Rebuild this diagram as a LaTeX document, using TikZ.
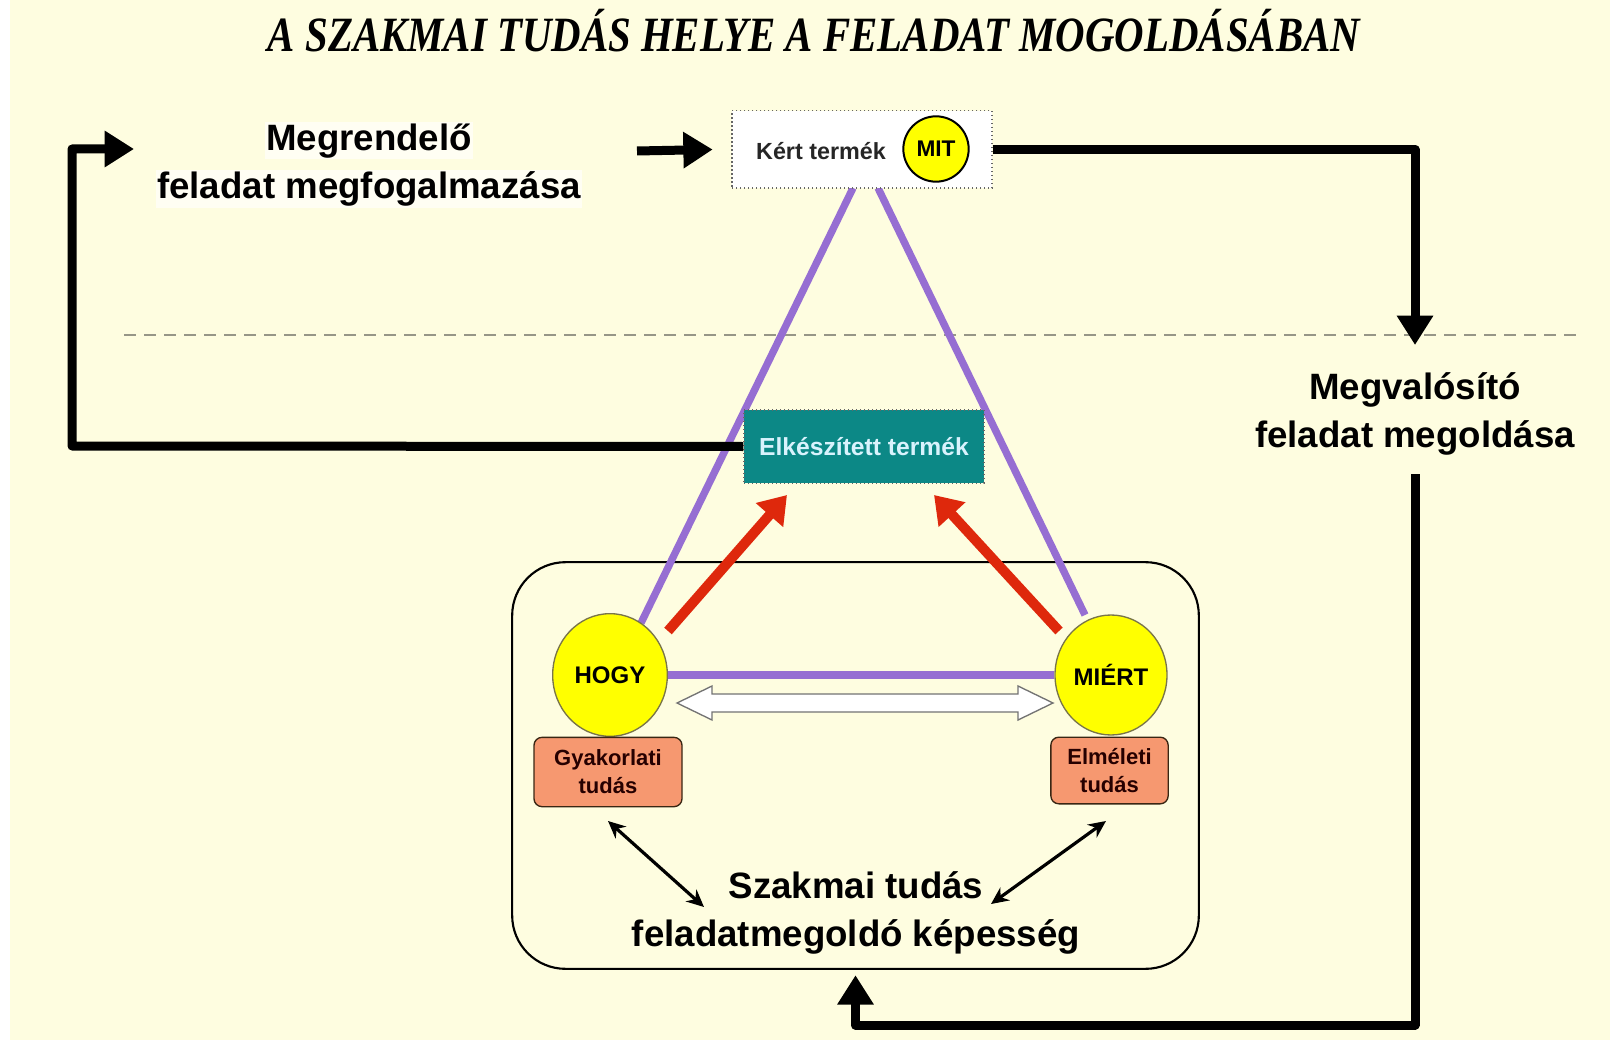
\documentclass[tikz,border=0pt]{standalone}
\usepackage{fontspec}
\setmainfont{Liberation Sans}
\newfontfamily\titlefont{Liberation Serif}
\usetikzlibrary{arrows.meta,shapes.geometric}
\definecolor{bgc}{RGB}{254,253,224}
\definecolor{purp}{RGB}{150,110,210}
\definecolor{redc}{RGB}{222,40,12}
\definecolor{tealc}{RGB}{12,136,134}
\definecolor{salm}{RGB}{246,152,112}
\definecolor{yel}{RGB}{255,255,0}
\definecolor{dashc}{RGB}{150,150,135}
\tikzset{
  bigarrow/.style={line width=6.75pt,line join=round,-{Triangle[length=22pt,width=26pt]}},
  purpline/.style={line width=5.5pt,purp},
  redarrow/.style={line width=7.5pt,redc,-{Triangle[length=20pt,width=26pt]}},
  thinarrow/.style={line width=2.4pt,{Stealth[length=13pt,width=12pt]}-{Stealth[length=13pt,width=12pt]}},
  biglabel/.style={font=\fontsize{27.5}{36}\selectfont\bfseries,align=center,inner sep=1pt},
  yelcirc/.style={ellipse,fill=yel,draw=black!60!yellow,line width=1pt,inner sep=0pt,font=\fontsize{18}{20}\selectfont\bfseries},
  salmbox/.style={rectangle,rounded corners=6pt,fill=salm,draw=black!70!brown,line width=1pt,align=center,font=\fontsize{16.5}{21}\selectfont\bfseries,text=black!85!red},
}
\begin{document}
\begin{tikzpicture}[x=0.75pt,y=-0.75pt]
\useasboundingbox (0,0) rectangle (1616,1048);
\fill[white] (0,0) rectangle (1616,1048);
\fill[bgc] (10,0) rectangle (1610,1040);
% title
\node (title) at (814,31) {\resizebox{819pt}{\height}{\titlefont\fontsize{37}{40}\selectfont\bfseries\itshape A SZAKMAI TUDÁS HELYE A FELADAT MOGOLDÁSÁBAN}};
% dashed separator
\draw[dashc,line width=1.5pt,dash pattern=on 9pt off 6pt] (124,335) coordinate (dl) -- (1577,335) coordinate (dr);
% big rounded box
\node[draw,line width=1.6pt,rounded corners=40pt,minimum width=515pt,minimum height=305pt] (bigbox) at (855.5,765.5) {};
% purple triangle
\coordinate (apexL) at (853,188);
\coordinate (apexR) at (878,188);
\draw[purpline] (apexL) -- (641,623) coordinate (hogyTop);
\draw[purpline] (apexR) -- (1085,615) coordinate (miertTop);
% nodes
\node[draw=black!60,dotted,line width=1pt,fill=white,minimum width=195pt,minimum height=58pt] (kert) at (862,149.5) {};
\node[font=\fontsize{17.5}{20}\selectfont\bfseries,text=black!85] (kerttext) at (821,151) {Kért termék};
\node[circle,fill=yel,draw=black,line width=1.5pt,minimum size=49pt,inner sep=0pt,font=\fontsize{17}{20}\selectfont\bfseries] (mit) at (936,149) {MIT};
\node[draw=black!60,dotted,line width=1pt,fill=tealc,minimum width=180pt,minimum height=55pt,text=cyan!15,font=\fontsize{18.5}{20}\selectfont\bfseries] (elk) at (864,446.5) {Elkészített termék};
\node[yelcirc,minimum width=86pt,minimum height=92pt] (hogy) at (610,675) {HOGY};
\node[yelcirc,minimum width=84pt,minimum height=90pt] (miert) at (1111,675) {MIÉRT};
\draw[purpline] (hogy.east) -- (miert.west);
\node[salmbox,minimum width=111pt,minimum height=52pt] (gyak) at (608,772) {Gyakorlati\\tudás};
\node[salmbox,minimum width=88pt,minimum height=50pt] (elm) at (1109.5,770.5) {Elméleti\\tudás};
% labels
\node[biglabel,fill=white!60!bgc] (megr1) at (369,141) {Megrendelő};
\node[biglabel,fill=white!60!bgc] (megr2) at (369,189) {feladat megfogalmazása};
\node[biglabel] (megv) at (1415,414) {Megvalósító\\feladat megoldása};
\node[biglabel] (szak) at (856,913) {Szakmai tudás\\feladatmegoldó képesség};
% white double arrow
\draw[draw=black!55,fill=white,line width=1pt] (677,703) coordinate (wl) -- (712,686) -- (712,694) -- (1018,694) -- (1018,686) -- (1053,703) coordinate (wr) -- (1018,720) -- (1018,712) -- (712,712) -- (712,720) -- cycle;
% red arrows
\draw[redarrow] (668,631) coordinate (r1s) -- (787,495) coordinate (r1e);
\draw[redarrow] (1059,631) coordinate (r2s) -- (934,495) coordinate (r2e);
% black thin double arrows
\coordinate (t1a) at (608,821);
\coordinate (t1b) at (704,907);
\coordinate (t2a) at (1106,821);
\coordinate (t2b) at (991,904);
\draw[thinarrow] (t1a) -- (t1b);
\draw[thinarrow] (t2a) -- (t2b);
% thick black connectors
\coordinate (a1s) at (637,151);
\draw[bigarrow] (a1s) -- ([xshift=-14pt]kert.west);
\coordinate (megvTop) at (1415,345);
\draw[bigarrow] (kert.east) -| (megvTop);
\coordinate (megvBot) at (1415,474);
\coordinate (loopBR) at (1415,1025);
\draw[bigarrow] (megvBot) -- (loopBR) -| ([yshift=-4pt]bigbox.south);
\coordinate (leftTip) at (134,149);
\draw[bigarrow] (elk.west) -- (72,446) |- (leftTip);
\end{tikzpicture}
\end{document}
